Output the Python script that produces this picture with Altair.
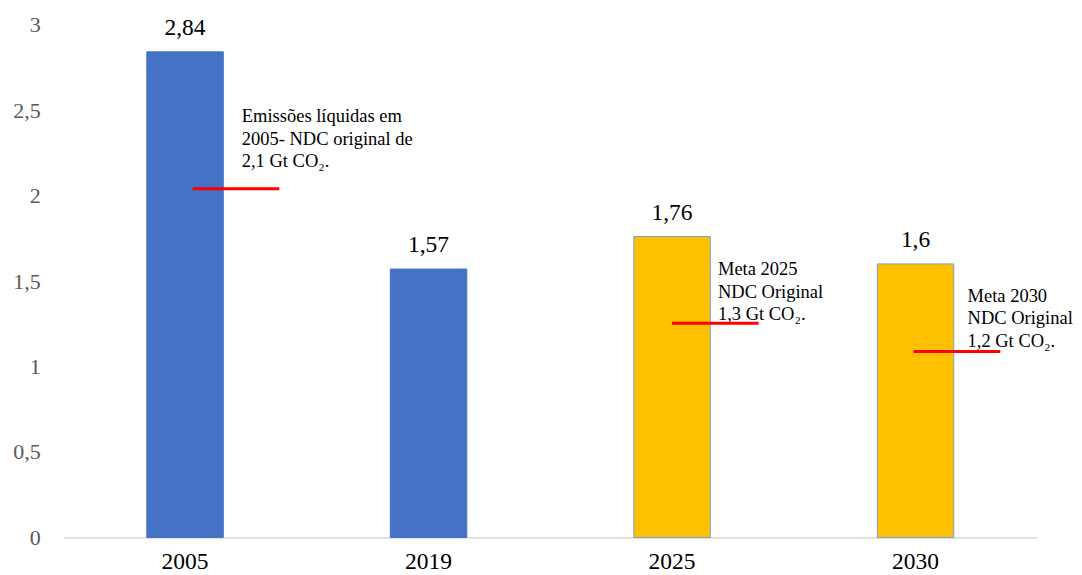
import altair as alt
import pandas as pd

years = ["2005", "2019", "2025", "2030"]
values = [2.84, 1.57, 1.76, 1.6]
kinds = ["Emissões", "Emissões", "Meta", "Meta"]
value_labels = ["2,84", "1,57", "1,76", "1,6"]

ann_years = ["2005", "2025", "2030"]
ann_lines = [
    "Emissões líquidas em\n2005- NDC original de\n2,1 Gt CO₂.",
    "Meta 2025\nNDC Original\n1,3 Gt CO₂.",
    "Meta 2030\nNDC Original\n1,2 Gt CO₂.",
]
ann_anchor = [2.516, 1.622, 1.465]
target_levels = [2.04, 1.253, 1.087]

y_ticks = [0, 0.5, 1, 1.5, 2, 2.5, 3]

FONT = "Liberation Serif"

bars_df = pd.DataFrame({"year": years, "value": values, "kind": kinds, "label": value_labels})
ann_df = pd.DataFrame({"year": ann_years, "text": ann_lines, "anchor": ann_anchor, "target": target_levels})

x_enc = alt.X(
    "year:N",
    sort=years,
    scale=alt.Scale(paddingInner=0, paddingOuter=0),
    axis=alt.Axis(
        title=None, labelAngle=0, ticks=False, labelFont=FONT, labelFontSize=23.5,
        labelColor="#000000", labelPadding=12, domainColor="#d9d9d9", domainWidth=1.5,
    ),
)
y_enc = alt.Y(
    "value:Q",
    scale=alt.Scale(domain=[0, 3], nice=False),
    axis=alt.Axis(
        title=None, values=y_ticks, grid=False, domain=False, ticks=False,
        labelFont=FONT, labelFontSize=22, labelColor="#595959", labelPadding=23,
        labelExpr="replace(toString(datum.value), '.', ',')",
    ),
)

bars = alt.Chart(bars_df).mark_bar(size=76.5, strokeWidth=1).encode(
    x=x_enc,
    y=y_enc,
    color=alt.Color("kind:N", scale=alt.Scale(domain=["Emissões", "Meta"], range=["#4472C4", "#FFC000"]), legend=None),
    stroke=alt.Stroke("kind:N", scale=alt.Scale(domain=["Emissões", "Meta"], range=["#4472C4", "#7f9fd4"]), legend=None),
)

labels = alt.Chart(bars_df).mark_text(
    font=FONT, fontSize=23.5, color="#000000", baseline="alphabetic", dy=-17
).encode(x=alt.X("year:N", sort=years), y="value:Q", text="label:N")

layers = [bars, labels]
text_dx = [56.7, 45.9, 52.0]
rule_start = [7.7, 0, -1.9]
for i, yr in enumerate(ann_years):
    sub = ann_df[ann_df["year"] == yr]
    layers.append(
        alt.Chart(sub).mark_text(
            font=FONT, fontSize=18.5, color="#000000", align="left", baseline="top",
            lineBreak="\n", lineHeight=22.5, dx=text_dx[i],
        ).encode(x=alt.X("year:N", sort=years), y=alt.Y("anchor:Q"), text="text:N")
    )
    layers.append(
        alt.Chart(sub).mark_rule(
            color="#FF0000", strokeWidth=3, xOffset=rule_start[i], x2Offset=rule_start[i] + 86.6,
        ).encode(x=alt.X("year:N", sort=years), x2="year:N", y=alt.Y("target:Q"))
    )

chart = alt.layer(*layers).properties(
    width=974,
    height=513,
    background="#ffffff",
    autosize=alt.AutoSizeParams(type="none"),
    padding={"left": 55.3, "top": 16.5, "right": 36, "bottom": 40},
).configure_view(strokeWidth=0)

chart.save("out.html", embed_options={"renderer": "svg", "actions": False})
